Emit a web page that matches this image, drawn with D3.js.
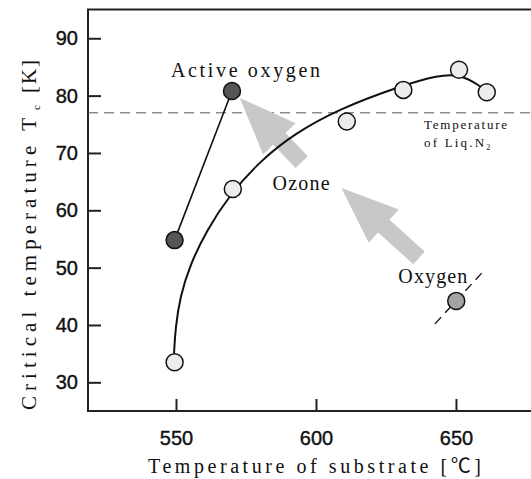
<!DOCTYPE html>
<html>
<head>
<meta charset="utf-8">
<script src="https://cdn.jsdelivr.net/npm/d3@7"></script>
<style>
  body { margin: 0; background: #fff; }
  svg { display: block; }
  .mono { font-family: "Liberation Serif", "Noto Sans CJK JP", serif; fill: #111; }
  .tick text { font-family: "Liberation Sans", Arial, sans-serif; font-size: 20px; fill: #111; stroke: #111; stroke-width: 0.4px; }
</style>
</head>
<body>
<svg id="chart"></svg>
<script>
// data
var activeX = [549.5, 570];
var activeY = [54.8, 80.8];

var ozoneX = [549.5, 570.3, 611, 631.2, 651.1, 661];
var ozoneY = [33.5, 63.7, 75.5, 81, 84.5, 80.6];

// hand drawn trend line through ozone points
var fitX = [549.3, 549.8, 551.5, 555, 561, 569, 580, 592.4, 608.4, 629.7, 644, 651.1, 658.2, 661];
var fitY = [35.1, 39.5, 45, 50.5, 56.5, 62.6, 68.6, 73.4, 77.7, 81.6, 83.6, 83.7, 81.9, 80.6];

var oxygenX = [650.1];
var oxygenY = [44.2];
var oxygenLineX = [642.5, 659.3];
var oxygenLineY = [40.2, 49.1];

var liqN2 = 77;

var xTicks = [550, 600, 650];
var yTicks = [30, 40, 50, 60, 70, 80, 90];

// arrows: [tipX, tipY, tailX, tailY]
var arrows = [
	[572.8, 79.6, 594.9, 68.4],
	[609.1, 63.9, 636.8, 51.7]
];

var width = 531,
	height = 479;

var svg = d3.select("#chart")
	.attr("width", width)
	.attr("height", height);

var x = d3.scaleLinear().domain([518.57, 676.8]).range([88, 531]);
var y = d3.scaleLinear().domain([25, 95]).range([411, 9.6]);

// frame
svg.append("path")
	.attr("d", "M" + width + "," + y(95) + "H" + x(518.57) + "V" + y(25) + "H" + width)
	.attr("fill", "none")
	.attr("stroke", "#222")
	.attr("stroke-width", 2);

var xAxis = svg.append("g")
	.attr("transform", "translate(0," + y(25) + ")")
	.call(d3.axisBottom(x).tickValues(xTicks).tickSizeInner(-12).tickSizeOuter(0));
var yAxis = svg.append("g")
	.attr("transform", "translate(" + x(518.57) + ",0)")
	.call(d3.axisLeft(y).tickValues(yTicks).tickSizeInner(-13).tickSizeOuter(0).tickPadding(10));
[xAxis, yAxis].forEach(function (a) {
	a.select(".domain").remove();
	a.selectAll(".tick line").attr("stroke", "#222").attr("stroke-width", 2);
});
xAxis.selectAll(".tick text").attr("dy", "0.35em").attr("y", 27);

// axis titles
svg.append("text")
	.attr("class", "mono")
	.attr("x", 148)
	.attr("y", 473)
	.attr("textLength", 333)
	.attr("lengthAdjust", "spacing")
	.style("font-size", "20px")
	.text("Temperature of substrate [℃]");

var yt = svg.append("text")
	.attr("class", "mono")
	.attr("transform", "translate(36,410) rotate(-90)")
	.style("font-size", "21px");
yt.append("tspan").attr("textLength", 292).attr("lengthAdjust", "spacing").text("Critical temperature T");
yt.append("tspan").attr("dx", 3).attr("dy", 4).style("font-size", "11px").text("c");
yt.append("tspan").attr("dx", 12).attr("dy", -4).style("letter-spacing", "2px").text("[K]");

// liquid nitrogen line
svg.append("line")
	.attr("x1", x(518.57)).attr("x2", width)
	.attr("y1", y(liqN2)).attr("y2", y(liqN2))
	.attr("stroke", "#555")
	.attr("stroke-width", 1)
	.attr("stroke-dasharray", "10,6");

var n2 = svg.append("g").attr("class", "mono").style("font-size", "13px");
n2.append("text").attr("x", x(638.6)).attr("y", y(74.2))
	.attr("textLength", 83).attr("lengthAdjust", "spacing").text("Temperature");
var n2b = n2.append("text").attr("x", x(638.6)).attr("y", y(71));
n2b.append("tspan").attr("textLength", 60).attr("lengthAdjust", "spacing").text("of Liq.N");
n2b.append("tspan").attr("dy", 3).style("font-size", "8px").text("2");

// gray arrows
function arrowPath(a) {
	var tx = x(a[0]), ty = y(a[1]), sx = x(a[2]), sy = y(a[3]);
	var dx = sx - tx, dy = sy - ty, len = Math.sqrt(dx * dx + dy * dy);
	var ux = dx / len, uy = dy / len, px = -uy, py = ux;
	var hl = 57, hw = 22.5, sw = 8.5;
	var bx = tx + ux * hl, by = ty + uy * hl;
	var pts = [
		[tx, ty],
		[bx + px * hw, by + py * hw],
		[bx + px * sw, by + py * sw],
		[sx + px * sw, sy + py * sw],
		[sx - px * sw, sy - py * sw],
		[bx - px * sw, by - py * sw],
		[bx - px * hw, by - py * hw]
	];
	return "M" + pts.map(function (p) { return p[0] + "," + p[1]; }).join("L") + "Z";
}
svg.selectAll(".arrow")
	.data(arrows)
	.enter()
	.append("path")
	.attr("class", "arrow")
	.attr("d", arrowPath)
	.attr("fill", "#c8c8c8");

// ozone trend
var fit = fitX.map(function (d, i) { return [d, fitY[i]]; });
svg.append("path")
	.datum(fit)
	.attr("d", d3.line()
		.x(function (d) { return x(d[0]); })
		.y(function (d) { return y(d[1]); })
		.curve(d3.curveBasis))
	.attr("fill", "none")
	.attr("stroke", "#111")
	.attr("stroke-width", 2);

// active oxygen line
var act = activeX.map(function (d, i) { return [d, activeY[i]]; });
svg.append("path")
	.datum(act)
	.attr("d", d3.line()
		.x(function (d) { return x(d[0]); })
		.y(function (d) { return y(d[1]); }))
	.attr("fill", "none")
	.attr("stroke", "#111")
	.attr("stroke-width", 1.6);

// oxygen dashed line
svg.append("line")
	.attr("x1", x(oxygenLineX[0])).attr("y1", y(oxygenLineY[0]))
	.attr("x2", x(oxygenLineX[1])).attr("y2", y(oxygenLineY[1]))
	.attr("stroke", "#111")
	.attr("stroke-width", 1.3)
	.attr("stroke-dasharray", "9,6");

function dots(xs, ys, fill) {
	svg.selectAll(null)
		.data(xs)
		.enter()
		.append("circle")
		.attr("cx", function (d) { return x(d); })
		.attr("cy", function (d, i) { return y(ys[i]); })
		.attr("r", 8.5)
		.attr("fill", fill)
		.attr("stroke", "#111")
		.attr("stroke-width", 1.5);
}
dots(ozoneX, ozoneY, "#ececec");
dots(activeX, activeY, "#555");
dots(oxygenX, oxygenY, "#a3a3a3");

// labels
function label(lx, ly, txt, w) {
	svg.append("text").attr("class", "mono")
		.attr("x", x(lx)).attr("y", y(ly))
		.attr("textLength", w).attr("lengthAdjust", "spacing")
		.style("font-size", "20px")
		.text(txt);
}
label(548.2, 83.25, "Active oxygen", 149);
label(584.5, 63.5, "Ozone", 57);
label(629.4, 47.3, "Oxygen", 69);
</script>
</body>
</html>
